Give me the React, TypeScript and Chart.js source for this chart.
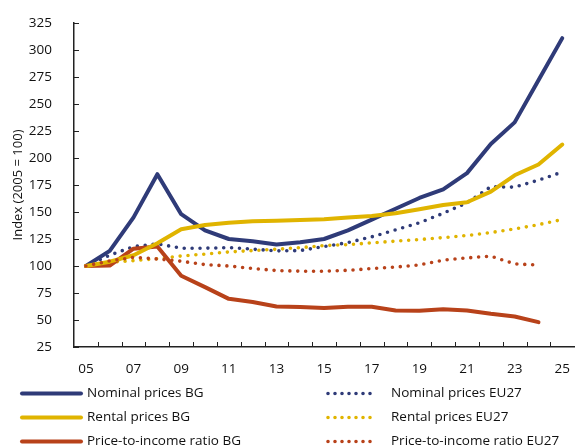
import React, { useEffect, useRef } from "react";
import { Chart, registerables } from "chart.js";

Chart.register(...registerables);

const years: string[] = ["05","06","07","08","09","10","11","12","13","14","15","16","17","18","19","20","21","22","23","24","25"];
const tickEvery = 2;

const nominalBG: (number | null)[] = [100,114,145,185,148,133,125,123,120,122,125,133,143,153,163,171,186,213,233,272,311];
const nominalEU: (number | null)[] = [100,110,118,120.5,116.5,116.5,117,115.6,114,114.3,118,121.7,127,133.4,140,148.8,158.6,173.4,173,179.5,187];
const rentalBG: (number | null)[] = [100,104,110,121,134,138,140,141.4,142,142.6,143.3,144.8,146.3,148.8,152.5,156.5,159,168.8,184,194,212.5];
const rentalEU: (number | null)[] = [100,103.5,105,106.8,109.3,111,113,114.3,115.5,117,118.9,119.8,121.4,123,124.5,126.3,128.2,131,134.3,138.3,143];
const ptiBG: (number | null)[] = [100,100.4,116,118,91,80.4,69.6,66.6,62.5,62,61,62.2,62.2,58.8,58.5,60,58.8,55.8,53.3,48,null];
const ptiEU: (number | null)[] = [100,104.7,108,106.5,104.4,101.3,100,97.7,95.8,95.2,95.2,96,97.6,99,101,105.4,107.5,109.1,102,100.8,null];

const yTicks: number[] = [25,50,75,100,125,150,175,200,225,250,275,300,325];
const yTitle = "Index (2005 = 100)";

const NAVY = "#2f3b78";
const GOLD = "#e0b400";
const RUST = "#b8421a";
const FONT = "'Open Sans', sans-serif";

export default function App() {
  const ref = useRef<HTMLCanvasElement | null>(null);
  useEffect(() => {
    if (!ref.current) return;
    const solid = (label: string, data: (number | null)[], color: string) => ({
      label, data, borderColor: color, backgroundColor: color, borderWidth: 4,
      pointRadius: 0, tension: 0, borderJoinStyle: "round" as const, borderCapStyle: "round" as const,
    });
    const dotted = (label: string, data: (number | null)[], color: string) => ({
      label, data, borderColor: color, backgroundColor: color, borderWidth: 3.6,
      borderDash: [0, 7.9], borderCapStyle: "round" as const,
      pointRadius: 0, tension: 0,
    });
    const datasets: any[] = [
      solid("Nominal prices BG", nominalBG, NAVY),
      dotted("Nominal prices EU27", nominalEU, NAVY),
      solid("Rental prices BG", rentalBG, GOLD),
      dotted("Rental prices EU27", rentalEU, GOLD),
      solid("Price-to-income ratio BG", ptiBG, RUST),
      dotted("Price-to-income ratio EU27", ptiEU, RUST),
    ];
    const order = [5, 3, 1, 4, 2, 0];
    datasets.forEach((d, i) => (d.order = order[i]));

    const innerTicks = {
      id: "innerTicks",
      afterDatasetsDraw(chart: any) {
        const { ctx, chartArea, scales } = chart;
        ctx.save();
        ctx.strokeStyle = "#222";
        ctx.lineWidth = 1;
        const ys = scales.y;
        yTicks.forEach((v) => {
          const y = Math.round(ys.getPixelForValue(v)) + 0.5;
          ctx.beginPath();
          ctx.moveTo(chartArea.left, y);
          ctx.lineTo(chartArea.left + 5, y);
          ctx.stroke();
        });
        const xs = scales.x;
        const w = xs.getPixelForValue(1) - xs.getPixelForValue(0);
        for (let i = 1; i < years.length; i++) {
          const x = Math.round(xs.getPixelForValue(i) - w / 2) + 0.5;
          ctx.beginPath();
          ctx.moveTo(x, chartArea.bottom);
          ctx.lineTo(x, chartArea.bottom - 5);
          ctx.stroke();
        }
        // y-axis title
        ctx.translate(18, (chartArea.top + chartArea.bottom) / 2);
        ctx.rotate(-Math.PI / 2);
        ctx.font = `13px ${FONT}`;
        ctx.fillStyle = "#111";
        ctx.textAlign = "center";
        ctx.textBaseline = "middle";
        ctx.fillText(yTitle, 0, 0);
        ctx.restore();
      },
    };

    const legendPlugin = {
      id: "twoColLegend",
      afterDraw(chart: any) {
        const { ctx } = chart;
        const ds = chart.data.datasets;
        const cols = [{ x0: 22, x1: 81, tx: 87 }, { x0: 328, x1: 377, tx: 391 }];
        const rows = [393.5, 417.5, 441.5];
        ctx.save();
        ctx.font = `13.5px ${FONT}`;
        ctx.textBaseline = "middle";
        ctx.fillStyle = "#111";
        ds.forEach((d: any, i: number) => {
          const c = cols[i % 2];
          const y = rows[Math.floor(i / 2)];
          ctx.beginPath();
          ctx.strokeStyle = d.borderColor;
          ctx.lineWidth = d.borderWidth;
          ctx.lineCap = "round";
          ctx.setLineDash(d.borderDash ? [0, 7] : []);
          ctx.moveTo(c.x0, y);
          ctx.lineTo(c.x1, y);
          ctx.stroke();
          ctx.setLineDash([]);
          ctx.fillText(d.label, c.tx, y);
        });
        ctx.restore();
      },
    };

    const chart = new Chart(ref.current, {
      type: "line",
      data: { labels: years, datasets },
      options: {
        animation: false,
        responsive: true,
        maintainAspectRatio: false,
        layout: { padding: { top: 23, right: 0, left: 0, bottom: 0 } },
        plugins: { legend: { display: false }, tooltip: { enabled: false } },
        scales: {
          x: {
            type: "category",
            offset: true,
            grid: { display: false },
            border: { display: true, color: "#222", width: 1.5 },
            ticks: {
              autoSkip: false,
              maxRotation: 0,
              padding: 6,
              color: "#111",
              font: { family: FONT, size: 13.5 },
              callback: (_v: any, i: number) => (i % tickEvery === 0 ? years[i] : ""),
            },
            afterFit: (s: any) => { s.height = 98; },
          },
          y: {
            min: 25,
            max: 325,
            afterBuildTicks: (s: any) => { s.ticks = yTicks.map((v) => ({ value: v })); },
            grid: { display: false },
            border: { display: true, color: "#222", width: 1.5 },
            ticks: {
              padding: 14,
              color: "#111",
              font: { family: FONT, size: 13.5 },
            },
            afterFit: (s: any) => { s.width = 74; },
          },
        },
      },
      plugins: [innerTicks, legendPlugin],
    });
    return () => chart.destroy();
  }, []);

  return (
    <div style={{ position: "absolute", left: 0, top: 0, width: 576, height: 445 }}>
      <canvas ref={ref} />
    </div>
  );
}
